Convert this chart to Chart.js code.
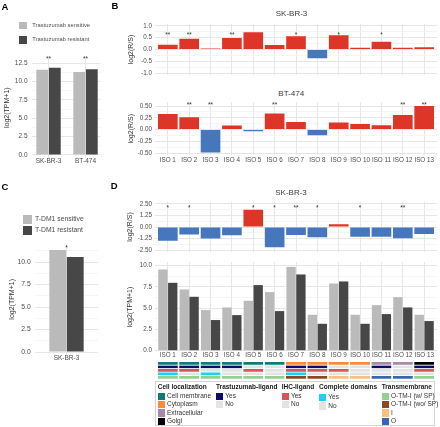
<!DOCTYPE html>
<html>
<head>
<meta charset="utf-8">
<script src="https://cdn.jsdelivr.net/npm/chart.js@4.4.1/dist/chart.umd.min.js"></script>
<style>
html,body{margin:0;padding:0;background:#fff}
body{width:440px;height:427px;position:relative;overflow:hidden;font-family:"Liberation Sans",Arial,sans-serif}
canvas{position:absolute}
.t{position:absolute;white-space:nowrap}
.sw{position:absolute}
.box{position:absolute;border:1px solid #d4d4d4;box-sizing:border-box}
</style>
</head>
<body>
<script>
// ---------------- DATA ----------------
const isoLabels = ['ISO 1','ISO 2','ISO 3','ISO 4','ISO 5','ISO 6','ISO 7','ISO 8','ISO 9','ISO 10','ISO 11','ISO 12','ISO 13'];

// Panel A
const aLines = ['SK-BR-3','BT-474'];
const aSensitive = [11.6, 11.3];
const aResistant = [11.9, 11.7];
const aSig = ['**','**'];
const aTicks = [0, 2.5, 5, 7.5, 10, 12.5];

// Panel B
const bSkbr3 = [0.20, 0.46, 0.04, 0.49, 0.73, 0.19, 0.56, -0.37, 0.60, 0.07, 0.33, 0.07, 0.10];
const bSkbr3Sig = ['**','**','','**','','','*','','*','','*','',''];
const bBt474 = [0.33, 0.26, -0.49, 0.086, -0.035, 0.34, 0.16, -0.12, 0.15, 0.12, 0.09, 0.31, 0.50];
const bBt474Sig = ['','**','**','','','**','','','','','','**','**'];
const bTopTicks = [-1, -0.5, 0, 0.5, 1];
const bBotTicks = [-0.5, -0.25, 0, 0.25, 0.5];

// Panel C
const cLines = ['SK-BR-3'];
const cSensitive = [11.33];
const cResistant = [10.55];
const cSig = ['*'];
const cTicks = [0, 2.5, 5, 7.5, 10];

// Panel D
const dRatio = [-1.50, -0.82, -1.25, -0.89, 1.88, -2.21, -0.86, -1.11, 0.29, -1.07, -1.07, -1.21, -0.75];
const dRatioSig = ['*','*','','','*','*','**','*','','*','','**',''];
const dSensitive = [9.53, 7.19, 4.77, 5.08, 5.86, 6.88, 9.84, 4.22, 7.89, 4.22, 5.35, 6.29, 4.22];
const dResistant = [7.97, 6.33, 3.60, 4.18, 7.70, 4.65, 8.95, 3.16, 8.13, 3.16, 4.30, 5.08, 3.48];
const dRatioTicks = [-2.5, -1.25, 0, 1.25, 2.5];
const dTpmTicks = [0, 2.5, 5, 7.5, 10];

// Annotation tiles
const cellLocalization = ['Cell membrane','Cell membrane','Cell membrane','Cell membrane','Cell membrane','Cell membrane','Cytoplasm','Cytoplasm','Cytoplasm','Cytoplasm','Extracellular','Extracellular','Golgi'];
const trastuzumabLigand = ['Yes','Yes','Yes','Yes','No','No','Yes','Yes','No','No','Yes','No','Yes'];
const ihcLigand = ['Yes','Yes','No','No','Yes','No','Yes','Yes','Yes','No','No','No','Yes'];
const completeDomains = ['Yes','No','Yes','No','No','No','Yes','No','No','No','No','No','No'];
const transmembrane = ['O-TM-I (w/ SP)','O-TM-I (w/ SP)','O-TM-I (w/ SP)','O-TM-I (w/ SP)','O-TM-I (w/ SP)','O-TM-I (w/ SP)','O-TM-I (wo/ SP)','O-TM-I (wo/ SP)','I','I','O','O','O-TM-I (w/ SP)'];

// ---------------- STYLE ----------------
const FONT = '"Liberation Sans", Arial, sans-serif';
const RED = '#dd3528', BLUE = '#4677bd', GREY_S = '#bababa', GREY_R = '#474747';
const GRID_MAJ = '#e6e6e6', GRID_MIN = '#f1f1f1';
const TICK_COL = '#4d4d4d', TITLE_COL = '#333333';
const NO_COL = '#e3e3e3';
const cellColors = {'Cell membrane':'#137a7a','Cytoplasm':'#fb8a3a','Extracellular':'#a78aa7','Golgi':'#000000'};
const navyMap = {'Yes':'#0c0c6c','No':NO_COL};
const redMap = {'Yes':'#d6575b','No':NO_COL};
const cyanMap = {'Yes':'#1cd0f5','No':NO_COL};
const tmColors = {'O-TM-I (w/ SP)':'#92d191','O-TM-I (wo/ SP)':'#8c4a22','I':'#fdbf80','O':'#3767b3'};

Chart.defaults.font.family = FONT;

// significance stars plugin
const sigPlugin = {
  id: 'sig',
  afterDatasetsDraw(chart, args, opts) {
    if (!opts || !opts.labels) return;
    const {ctx, scales} = chart;
    const fs = 6.5;
    ctx.save();
    ctx.font = fs + 'px ' + FONT;
    ctx.fillStyle = '#333';
    ctx.textAlign = 'center';
    ctx.textBaseline = 'alphabetic';
    opts.labels.forEach((t, i) => {
      if (!t) return;
      const px = scales.x.getPixelForValue(i + 1);
      const py = scales.y.getPixelForValue(opts.at);
      ctx.fillText(t, px, py + fs * 0.57);
    });
    ctx.restore();
  }
};
Chart.register(sigPlugin);

// ---------------- HELPERS ----------------
function addCanvas(x, y, w, h) {
  const c = document.createElement('canvas');
  c.width = w; c.height = h;
  c.style.left = x + 'px'; c.style.top = y + 'px';
  c.style.width = w + 'px'; c.style.height = h + 'px';
  document.body.appendChild(c);
  return c;
}
function addText(str, x, cy, size, o = {}) {
  const d = document.createElement('div');
  d.className = 't';
  d.textContent = str;
  d.style.fontSize = size + 'px';
  d.style.lineHeight = size + 'px';
  d.style.top = (cy - size / 2) + 'px';
  d.style.left = x + 'px';
  d.style.color = o.color || '#333';
  if (o.bold) d.style.fontWeight = 'bold';
  if (o.center) d.style.transform = 'translateX(-50%)';
  document.body.appendChild(d);
  return d;
}
function addSwatch(x, y, w, h, color) {
  const d = document.createElement('div');
  d.className = 'sw';
  d.style.left = x + 'px'; d.style.top = y + 'px';
  d.style.width = w + 'px'; d.style.height = h + 'px';
  d.style.background = color;
  document.body.appendChild(d);
}
function withMinor(major, min, max) {
  const step = major[1] - major[0];
  const out = [];
  for (let k = -1; k <= major.length * 2; k++) {
    const v = +(major[0] + k * step / 2).toFixed(6);
    if (v >= min - 1e-9 && v <= max + 1e-9) out.push(v);
  }
  return out;
}
function yScale(c) {
  const all = withMinor(c.ticks, c.min, c.max);
  const isMaj = v => c.ticks.some(m => Math.abs(m - v) < 1e-6);
  return {
    type: 'linear', min: c.min, max: c.max, offset: false,
    afterBuildTicks: s => { s.ticks = all.map(v => ({value: v})); },
    afterFit: s => { s.width = c.width; s.paddingTop = 0; s.paddingBottom = 0; s.paddingLeft = 0; s.paddingRight = 0; },
    border: {display: false},
    grid: {
      drawTicks: false, tickLength: 0, offset: false,
      color: ctx => (ctx.tick && isMaj(ctx.tick.value)) ? GRID_MAJ : GRID_MIN,
      lineWidth: ctx => (ctx.tick && isMaj(ctx.tick.value)) ? 1 : 0.7
    },
    ticks: {
      autoSkip: false, padding: c.gap, color: TICK_COL,
      font: {size: c.fs, lineHeight: 1},
      callback: v => isMaj(v) ? Number(v).toFixed(c.dec) : ''
    },
    title: {display: true, text: c.title, color: TITLE_COL, font: {size: 7, lineHeight: 1.2}, padding: {top: c.titlePad, bottom: 0}}
  };
}
function xScale(c) {
  return {
    type: 'linear', min: c.min, max: c.max, offset: false,
    afterBuildTicks: s => { s.ticks = c.labels.map((_, i) => ({value: i + 1})); },
    afterFit: s => { s.height = c.height; s.paddingLeft = 0; s.paddingRight = 0; s.paddingTop = 0; s.paddingBottom = 0; },
    border: {display: false},
    grid: {drawTicks: false, tickLength: 0, offset: false, color: GRID_MAJ, lineWidth: 1},
    ticks: {
      display: c.show, autoSkip: false, maxRotation: 0, minRotation: 0,
      padding: c.pad, color: TICK_COL, font: {size: c.fs, lineHeight: 1},
      callback: v => c.labels[Math.round(v) - 1]
    }
  };
}
function baseOpts(padding, scales, sig) {
  return {
    responsive: false, animation: false, events: [],
    layout: {padding},
    plugins: {legend: {display: false}, tooltip: {enabled: false}, sig: sig || {}},
    scales
  };
}
function pts(arr) { return arr.map((v, i) => ({x: i + 1, y: v})); }

// ---------------- PANEL A ----------------
new Chart(addCanvas(0, 0, 110, 175), {
  type: 'bar',
  data: {datasets: [
    {data: pts(aSensitive), backgroundColor: GREY_S, categoryPercentage: 0.68, barPercentage: 0.94, borderWidth: 0},
    {data: pts(aResistant), backgroundColor: GREY_R, categoryPercentage: 0.68, barPercentage: 0.94, borderWidth: 0}
  ]},
  options: baseOpts({left: 0, top: 57.4, right: 9.5, bottom: 0}, {
    x: xScale({min: 0.54, max: 2.405, labels: aLines, show: true, height: 17.1, pad: 0, fs: 6.5}),
    y: yScale({min: -0.4, max: 13.3, ticks: aTicks, width: 31.5, gap: 4, fs: 6.5, dec: 1, title: 'log2(TPM+1)', titlePad: 2.5})
  }, {labels: aSig, at: 13.35})
});

// ---------------- PANEL B (top: SK-BR-3) ----------------
new Chart(addCanvas(110, 18, 330, 60), {
  type: 'bar',
  data: {datasets: [
    {data: pts(bSkbr3), backgroundColor: bSkbr3.map(v => v < 0 ? BLUE : RED), categoryPercentage: 0.92, barPercentage: 1, borderWidth: 0}
  ]},
  options: baseOpts({left: 0, top: 5.6, right: 3, bottom: 0}, {
    x: xScale({min: 0.4, max: 13.6, labels: isoLabels, show: false, height: 2.6, pad: 0, fs: 6.3}),
    y: yScale({min: -1.1, max: 1.1, ticks: bTopTicks, width: 45, gap: 3, fs: 6.3, dec: 1, title: 'log2(R/S)', titlePad: 16.5})
  }, {labels: bSkbr3Sig, at: 0.69})
});

// ---------------- PANEL B (bottom: BT-474) ----------------
new Chart(addCanvas(110, 98, 330, 70), {
  type: 'bar',
  data: {datasets: [
    {data: pts(bBt474), backgroundColor: bBt474.map(v => v < 0 ? BLUE : RED), categoryPercentage: 0.92, barPercentage: 1, borderWidth: 0}
  ]},
  options: baseOpts({left: 0, top: 4.3, right: 3, bottom: 0}, {
    x: xScale({min: 0.4, max: 13.6, labels: isoLabels, show: true, height: 12.65, pad: 1.5, fs: 6.3}),
    y: yScale({min: -0.55, max: 0.58, ticks: bBotTicks, width: 45, gap: 3, fs: 6.3, dec: 2, title: 'log2(R/S)', titlePad: 16.5})
  }, {labels: bBt474Sig, at: 0.557})
});

// ---------------- PANEL C ----------------
new Chart(addCanvas(0, 180, 110, 190), {
  type: 'bar',
  data: {datasets: [
    {data: pts(cSensitive), backgroundColor: GREY_S, categoryPercentage: 0.556, barPercentage: 0.96, borderWidth: 0},
    {data: pts(cResistant), backgroundColor: GREY_R, categoryPercentage: 0.556, barPercentage: 0.96, borderWidth: 0}
  ]},
  options: baseOpts({left: 0, top: 64, right: 12, bottom: 0}, {
    x: xScale({min: 0.5, max: 1.5, labels: cLines, show: true, height: 15.3, pad: 0.3, fs: 6.5}),
    y: yScale({min: -0.3, max: 12.0, ticks: cTicks, width: 35, gap: 4.3, fs: 6.8, dec: 1, title: 'log2(TPM+1)', titlePad: 7.8})
  }, {labels: cSig, at: 11.78})
});

// ---------------- PANEL D (top: ratio) ----------------
new Chart(addCanvas(110, 198, 330, 58), {
  type: 'bar',
  data: {datasets: [
    {data: pts(dRatio), backgroundColor: dRatio.map(v => v < 0 ? BLUE : RED), categoryPercentage: 0.92, barPercentage: 1, borderWidth: 0}
  ]},
  options: baseOpts({left: 0, top: 3.7, right: 3, bottom: 0}, {
    x: xScale({min: 0.4, max: 13.6, labels: isoLabels, show: false, height: 3.7, pad: 0, fs: 6.3}),
    y: yScale({min: -2.75, max: 2.75, ticks: dRatioTicks, width: 45, gap: 3, fs: 6.3, dec: 2, title: 'log2(R/S)', titlePad: 16})
  }, {labels: dRatioSig, at: 2.28})
});

// ---------------- PANEL D (bottom: TPM) ----------------
new Chart(addCanvas(110, 258, 330, 104), {
  type: 'bar',
  data: {datasets: [
    {data: pts(dSensitive), backgroundColor: GREY_S, categoryPercentage: 0.92, barPercentage: 0.95, borderWidth: 0},
    {data: pts(dResistant), backgroundColor: GREY_R, categoryPercentage: 0.92, barPercentage: 0.95, borderWidth: 0}
  ]},
  options: baseOpts({left: 0, top: 4.1, right: 3, bottom: 0}, {
    x: xScale({min: 0.4, max: 13.6, labels: isoLabels, show: true, height: 10, pad: 0, fs: 6.3}),
    y: yScale({min: -0.15, max: 10.4, ticks: dTpmTicks, width: 45, gap: 3, fs: 6.3, dec: 1, title: 'log2(TPM+1)', titlePad: 15.8})
  })
});

// ---------------- ANNOTATION TILES ----------------
const tileRows = [
  [cellLocalization, cellColors],
  [trastuzumabLigand, navyMap],
  [ihcLigand, redMap],
  [completeDomains, cyanMap],
  [transmembrane, tmColors]
];
new Chart(addCanvas(110, 358, 330, 24), {
  type: 'bar',
  data: {datasets: tileRows.map(([arr, map]) => ({
    data: arr.map((v, i) => ({x: i + 1, y: 1})),
    backgroundColor: arr.map(v => map[v]),
    borderColor: '#ffffff',
    borderWidth: {top: 0.35, bottom: 0.35, left: 0, right: 0},
    borderSkipped: false,
    inflateAmount: 0,
    categoryPercentage: 0.94, barPercentage: 1
  }))},
  options: {
    responsive: false, animation: false, events: [],
    layout: {padding: {left: 45, right: 3, top: 3.7, bottom: 3}},
    plugins: {legend: {display: false}, tooltip: {enabled: false}},
    scales: {
      x: {type: 'linear', min: 0.4, max: 13.6, display: false, stacked: true, offset: false,
          afterBuildTicks: s => { s.ticks = isoLabels.map((_, i) => ({value: i + 1})); }},
      y: {type: 'linear', min: 0, max: tileRows.length, reverse: true, display: false, stacked: true}
    }
  }
});

// ---------------- TEXT / LEGENDS ----------------
addText('A', 1.5, 6.4, 9.5, {bold: true, color: '#000'});
addText('B', 111.5, 6.1, 9.5, {bold: true, color: '#000'});
addText('C', 1.5, 186.5, 9.5, {bold: true, color: '#000'});
addText('D', 110.8, 185.6, 9.5, {bold: true, color: '#000'});

addText('SK-BR-3', 291.5, 13.7, 8, {center: true, color: '#3a3a3a'});
addText('BT-474', 291.2, 94, 8, {center: true, color: '#3a3a3a'});
addText('SK-BR-3', 291, 192.5, 8, {center: true, color: '#3a3a3a'});

// Legend A
addSwatch(19.3, 21.7, 7.4, 7.6, GREY_S);
addSwatch(19.3, 36, 7.4, 7.6, GREY_R);
addText('Trastuzumab sensitive', 32.3, 25.7, 5.8, {color: '#4d4d4d'});
addText('Trastuzumab resistant', 32.3, 39.7, 5.8, {color: '#4d4d4d'});

// Legend C
addSwatch(22.7, 214.7, 9, 9.3, GREY_S);
addSwatch(22.7, 226, 9, 9.3, GREY_R);
addText('T-DM1 sensitive', 35, 219.3, 6.8, {color: '#4d4d4d'});
addText('T-DM1 resistant', 35, 230.5, 6.8, {color: '#4d4d4d'});

// Legend D (annotation)
const box = document.createElement('div');
box.className = 'box';
box.style.left = '155px'; box.style.top = '381px'; box.style.width = '280px'; box.style.height = '45px';
document.body.appendChild(box);
const legendCols = [
  {title: 'Cell localization', colors: cellColors, x: 157.7, dy: 0},
  {title: 'Trastuzumab-ligand', colors: navyMap, x: 216, dy: 0},
  {title: 'IHC-ligand', colors: redMap, x: 281.7, dy: 0},
  {title: 'Complete domains', colors: cyanMap, x: 319, dy: 1.3},
  {title: 'Transmembrane', colors: tmColors, x: 381.7, dy: 0}
];
legendCols.forEach(col => {
  addText(col.title, col.x, 387.6, 6.5, {bold: true, color: '#1a1a1a'});
  Object.keys(col.colors).forEach((it, k) => {
    const y = 392.7 + col.dy + k * 8.3;
    addSwatch(col.x, y, 7.3, 7.3, col.colors[it]);
    addText(it, col.x + 9.3, y + 3.7, 6.5, {color: '#333'});
  });
});
</script>
</body>
</html>
